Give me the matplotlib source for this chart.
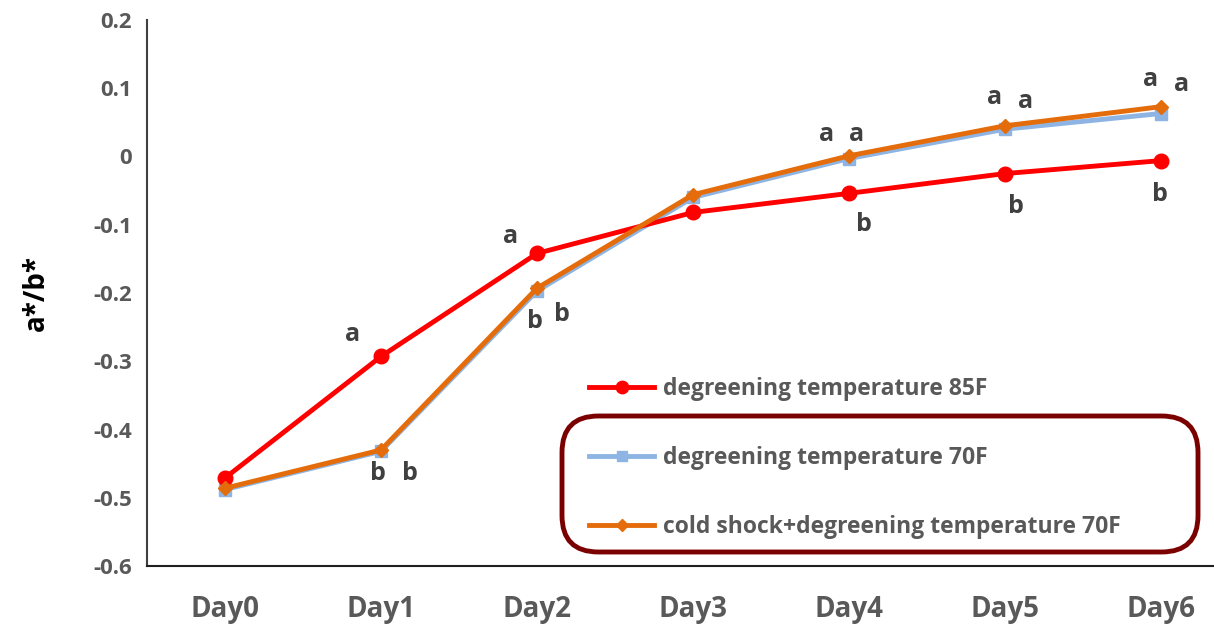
import matplotlib
matplotlib.use('Agg')
import matplotlib.pyplot as plt
from matplotlib.patches import FancyBboxPatch

plt.rcParams['font.family'] = ['Open Sans', 'DejaVu Sans']

days = ['Day0', 'Day1', 'Day2', 'Day3', 'Day4', 'Day5', 'Day6']
temp85 = [-0.471, -0.293, -0.142, -0.082, -0.054, -0.025, -0.006]
temp70 = [-0.488, -0.432, -0.197, -0.060, -0.003, 0.040, 0.063]
cold70 = [-0.486, -0.430, -0.193, -0.056, 0.001, 0.045, 0.073]

# significance letters: (series, day index, letter, dx, dy) offsets in pixels
letters = [
    ('r', 1, 'a', -28, 22), ('o', 1, 'b', -3, -24), ('o', 1, 'b', 29, -24),
    ('r', 2, 'a', -26, 17), ('o', 2, 'b', -2, -33), ('o', 2, 'b', 25, -26),
    ('o', 4, 'a', -22, 21), ('o', 4, 'a', 8, 21), ('r', 4, 'b', 15, -31),
    ('o', 5, 'a', -10, 28), ('o', 5, 'a', 21, 24), ('r', 5, 'b', 11, -33),
    ('o', 6, 'a', -10, 27), ('o', 6, 'a', 21, 22), ('r', 6, 'b', -1, -34),
]

fig = plt.figure(figsize=(12.14, 6.3), dpi=100)
ax = fig.add_axes([147 / 1214, 1 - 566 / 630, 1092 / 1214, 546 / 630])

x = list(range(len(days)))
ax.plot(x, temp85, color='#ff0000', lw=3.5, marker='o', ms=10.5,
        label='degreening temperature 85F', zorder=3)
ax.plot(x, temp70, color='#8db4e2', lw=3.5, marker='s', ms=8,
        label='degreening temperature 70F', zorder=2)
ax.plot(x, cold70, color='#e46c0a', lw=3.5, marker='D', ms=7.5,
        label='cold shock+degreening temperature 70F', zorder=4)

series = {'r': temp85, 'o': cold70}
for key, i, txt, dx, dy in letters:
    ax.annotate(txt, (i, series[key][i]), xytext=(dx, dy),
                textcoords='offset pixels', ha='center', va='center',
                fontsize=18, fontweight='bold', color='#404040')

ax.set_xlim(-0.5, 6.5)
ax.set_ylim(-0.6, 0.2)
ax.set_xticks(x)
ax.set_xticklabels(days)
ax.set_yticks([-0.6, -0.5, -0.4, -0.3, -0.2, -0.1, 0, 0.1, 0.2])
ax.set_yticklabels(['-0.6', '-0.5', '-0.4', '-0.3', '-0.2', '-0.1', '0', '0.1', '0.2'])
ax.tick_params(length=0)
ax.tick_params(axis='x', pad=21, labelsize=20, labelcolor='#595959')
ax.tick_params(axis='y', pad=11, labelsize=16, labelcolor='#595959')
for lab in ax.get_xticklabels() + ax.get_yticklabels():
    lab.set_fontweight('bold')

for s in ['top', 'right']:
    ax.spines[s].set_visible(False)
ax.spines['left'].set_color('#404040')
ax.spines['left'].set_linewidth(1.5)
ax.spines['bottom'].set_color('#202020')
ax.spines['bottom'].set_linewidth(1.5)

ax.set_ylabel('a*/b*', fontsize=20, fontweight='bold', color='black', labelpad=30)

leg = ax.legend(loc='upper left', bbox_to_anchor=(578 / 1214, 1 - 366 / 630),
                bbox_transform=fig.transFigure, frameon=False, fontsize=16.5,
                handlelength=2.8, handletextpad=0.4, labelspacing=1.95,
                borderpad=0, markerscale=0.85)
for t in leg.get_texts():
    t.set_color('#595959')
    t.set_fontweight('bold')

box = FancyBboxPatch((562 / 1214, 1 - 552 / 630), 636 / 1214, 136 / 630,
                     boxstyle='round,pad=0,rounding_size=0.03',
                     transform=fig.transFigure, fill=False,
                     edgecolor='#7b0000', lw=3.5, mutation_aspect=1214 / 630)
fig.patches.append(box)

fig.savefig('out.png', dpi=100)
